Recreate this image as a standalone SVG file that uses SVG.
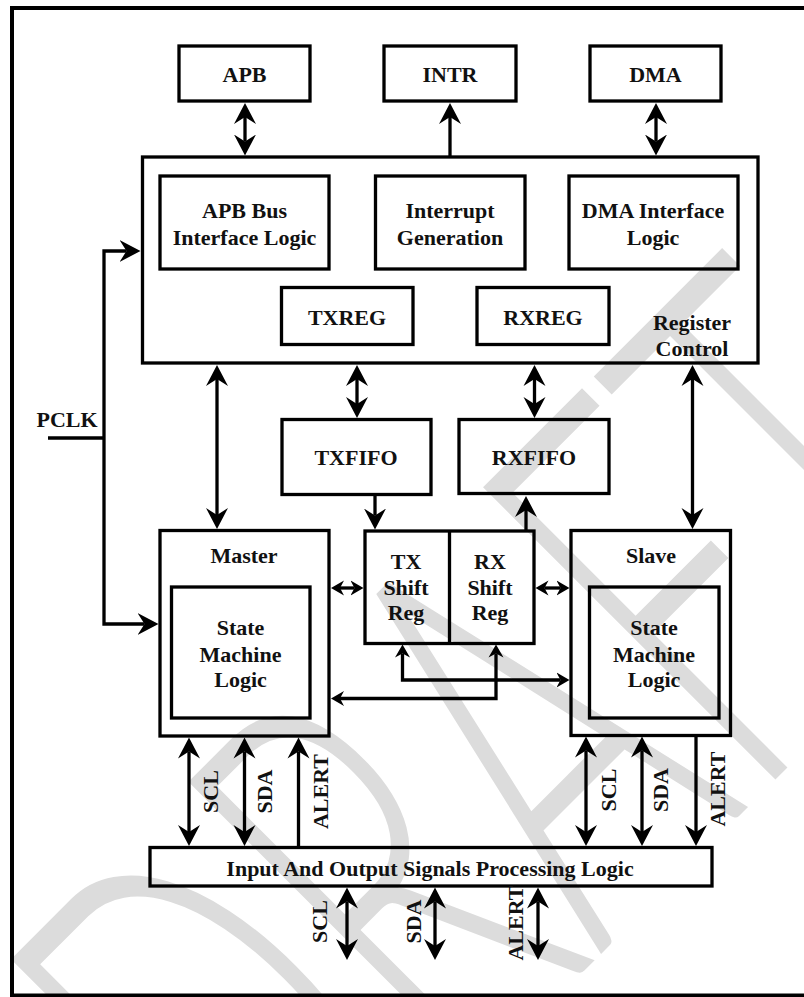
<svg xmlns="http://www.w3.org/2000/svg" width="804" height="997" viewBox="0 0 804 997">
  <style>
    .box { fill: none; stroke: #000; stroke-width: 3.3; }
    .frame { fill: none; stroke: #000; stroke-width: 4; }
    .t { font-family: "Liberation Serif", "Times New Roman", serif; font-weight: bold; font-size: 22px; fill: #111; text-anchor: middle; }
    .ts { text-anchor: start; }
    .w { fill: none; stroke: #000; stroke-width: 3.3; }
    .wm { font-family: Lato, "Open Sans", "Liberation Sans", sans-serif; font-weight: 300; font-size: 382px; fill: #dcdcdc; }
  </style>
  <defs>
    <marker id="ab" markerUnits="userSpaceOnUse" markerWidth="22" markerHeight="24" viewBox="0 -12 22 24" refX="7" refY="0" orient="auto-start-reverse">
      <path d="M0,-11 L21,0 L0,11 L7,0 Z" fill="#000"/>
    </marker>
    <marker id="as" markerUnits="userSpaceOnUse" markerWidth="14" markerHeight="16" viewBox="0 -8 14 16" refX="4" refY="0" orient="auto-start-reverse">
      <path d="M0,-7.5 L13,0 L0,7.5 L4,0 Z" fill="#000"/>
    </marker>
  </defs>

  <rect x="0" y="0" width="804" height="997" fill="#fff"/>

  <!-- watermark, diagonal and stretched -->
  <g id="watermark">
    <text class="wm" transform="translate(279,1276) rotate(-45) scale(1,1.53)" textLength="1045" lengthAdjust="spacingAndGlyphs">DRAFT</text>
  </g>

  <rect class="frame" x="12" y="8" width="800" height="987.5"/>

  <!-- external interfaces -->
  <g id="apb"><rect class="box" x="179" y="46" width="131" height="55"/><text class="t" x="244.5" y="81.5">APB</text></g>
  <g id="intr"><rect class="box" x="384" y="46" width="132" height="55"/><text class="t" x="450" y="81.5">INTR</text></g>
  <g id="dma"><rect class="box" x="590" y="46" width="131" height="55"/><text class="t" x="655.5" y="81.5">DMA</text></g>

  <!-- register control block -->
  <g id="register-control">
    <rect class="box" x="142.5" y="157" width="615.5" height="206"/>
    <text class="t" x="692" y="330">Register</text>
    <text class="t" x="692" y="356">Control</text>
  </g>
  <g id="apb-bus-if"><rect class="box" x="160" y="176" width="169" height="93"/>
    <text class="t" x="244.5" y="218">APB Bus</text><text class="t" x="244.5" y="245">Interface Logic</text></g>
  <g id="interrupt-gen"><rect class="box" x="375.5" y="176" width="149.5" height="93"/>
    <text class="t" x="450" y="218">Interrupt</text><text class="t" x="450" y="245">Generation</text></g>
  <g id="dma-if"><rect class="box" x="569" y="176" width="169" height="93"/>
    <text class="t" x="653" y="218">DMA Interface</text><text class="t" x="653" y="245">Logic</text></g>
  <g id="txreg"><rect class="box" x="281.5" y="287.5" width="131.5" height="57"/><text class="t" x="347" y="325">TXREG</text></g>
  <g id="rxreg"><rect class="box" x="477" y="287.5" width="132" height="57"/><text class="t" x="543" y="325">RXREG</text></g>

  <!-- FIFOs -->
  <g id="txfifo"><rect class="box" x="282" y="419.5" width="149" height="75"/><text class="t" x="356" y="465">TXFIFO</text></g>
  <g id="rxfifo"><rect class="box" x="459" y="419.5" width="150" height="74"/><text class="t" x="534" y="465">RXFIFO</text></g>

  <!-- master -->
  <g id="master">
    <rect class="box" x="160" y="530.5" width="169" height="205.5"/>
    <text class="t" x="244" y="563">Master</text>
    <rect class="box" x="171.5" y="587" width="138.5" height="131"/>
    <text class="t" x="240.5" y="635">State</text>
    <text class="t" x="240.5" y="661.5">Machine</text>
    <text class="t" x="240.5" y="687">Logic</text>
  </g>

  <!-- shift registers -->
  <g id="shift-regs">
    <rect class="box" x="365" y="531" width="169" height="112.5"/>
    <line class="w" x1="449.5" y1="531" x2="449.5" y2="643.5"/>
    <text class="t" x="406" y="569">TX</text><text class="t" x="406" y="595">Shift</text><text class="t" x="406" y="620">Reg</text>
    <text class="t" x="490" y="569">RX</text><text class="t" x="490" y="595">Shift</text><text class="t" x="490" y="620">Reg</text>
  </g>

  <!-- slave -->
  <g id="slave">
    <rect class="box" x="571" y="530.5" width="159.5" height="205"/>
    <text class="t" x="651" y="563">Slave</text>
    <rect class="box" x="589.5" y="587" width="129.5" height="131"/>
    <text class="t" x="654" y="635">State</text>
    <text class="t" x="654" y="661.5">Machine</text>
    <text class="t" x="654" y="687">Logic</text>
  </g>

  <!-- I/O processing -->
  <g id="io-logic">
    <rect class="box" x="150" y="847.5" width="562" height="38.5"/>
    <text class="t" x="430" y="875.5">Input And Output Signals Processing Logic</text>
  </g>

  <!-- connectors -->
  <g id="connectors">
    <path class="w" d="M245,117 V141.5" marker-start="url(#ab)" marker-end="url(#ab)"/>
    <path class="w" d="M450,157 V117" marker-end="url(#ab)"/>
    <path class="w" d="M656,117 V141.5" marker-start="url(#ab)" marker-end="url(#ab)"/>

    <path class="w" d="M217,379 V515" marker-start="url(#ab)" marker-end="url(#ab)"/>
    <path class="w" d="M357,379 V404" marker-start="url(#ab)" marker-end="url(#ab)"/>
    <path class="w" d="M534.5,379 V404" marker-start="url(#ab)" marker-end="url(#ab)"/>
    <path class="w" d="M692.5,379 V515" marker-start="url(#ab)" marker-end="url(#ab)"/>

    <path class="w" d="M375,494.5 V515.5" marker-end="url(#ab)"/>
    <path class="w" d="M526,531 V510" marker-end="url(#ab)"/>

    <path class="w" d="M48,438 H104"/>
    <path class="w" d="M126.5,251 H104 V624 H144.5" marker-start="url(#ab)" marker-end="url(#ab)"/>

    <path class="w" d="M340,588 H354.5" marker-start="url(#as)" marker-end="url(#as)"/>
    <path class="w" d="M544.5,588 H560.5" marker-start="url(#as)" marker-end="url(#as)"/>
    <path class="w" d="M402.5,653.5 V680 H560.5" marker-start="url(#as)" marker-end="url(#as)"/>
    <path class="w" d="M496,653.5 V698.5 H340" marker-start="url(#as)" marker-end="url(#as)"/>

    <path class="w" d="M189,751.5 V832" marker-start="url(#ab)" marker-end="url(#ab)"/>
    <path class="w" d="M244.5,751.5 V832" marker-start="url(#ab)" marker-end="url(#ab)"/>
    <path class="w" d="M298.5,847.5 V751.5" marker-end="url(#ab)"/>

    <path class="w" d="M586,750.5 V832" marker-start="url(#ab)" marker-end="url(#ab)"/>
    <path class="w" d="M642,750.5 V832" marker-start="url(#ab)" marker-end="url(#ab)"/>
    <path class="w" d="M696,735.5 V832" marker-end="url(#ab)"/>

    <path class="w" d="M347,901.5 V946" marker-start="url(#ab)" marker-end="url(#ab)"/>
    <path class="w" d="M435,901.5 V946" marker-start="url(#ab)" marker-end="url(#ab)"/>
    <path class="w" d="M538,901.5 V946" marker-start="url(#ab)" marker-end="url(#ab)"/>
  </g>

  <!-- signal labels -->
  <g id="labels">
    <text class="t ts" x="36.5" y="426.5">PCLK</text>
    <text class="t" transform="translate(218,791.5) rotate(-90)">SCL</text>
    <text class="t" transform="translate(272,791.5) rotate(-90)">SDA</text>
    <text class="t" transform="translate(328,791.5) rotate(-90)">ALERT</text>
    <text class="t" transform="translate(616,790) rotate(-90)">SCL</text>
    <text class="t" transform="translate(668,790) rotate(-90)">SDA</text>
    <text class="t" transform="translate(725,789) rotate(-90)">ALERT</text>
    <text class="t" transform="translate(327,921.5) rotate(-90)">SCL</text>
    <text class="t" transform="translate(421,921.5) rotate(-90)">SDA</text>
    <text class="t" transform="translate(523,923) rotate(-90)">ALERT</text>
  </g>
</svg>
